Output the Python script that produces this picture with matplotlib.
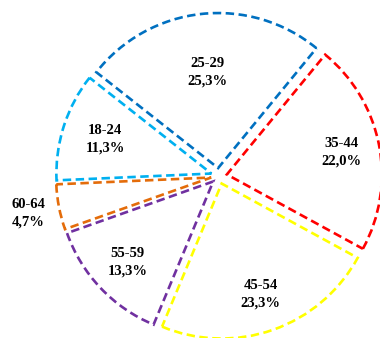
import matplotlib.pyplot as plt
import numpy as np

labels = ["25-29", "35-44", "45-54", "55-59", "60-64", "18-24"]
shares = [25.3, 22.0, 23.3, 13.3, 4.7, 11.3]
colors = ["#0070C0", "#FF0000", "#FFFF00", "#7030A0", "#E46C0A", "#00B0F0"]
label_dist = [0.62, 0.755, 0.76, 0.76, 1.2, 0.72]

W, H = 380, 338
fig = plt.figure(figsize=(W / 100, H / 100), dpi=100)
ax = fig.add_axes([0, 0, 1, 1])

radius = 155
center = (219, H - 176)
# explode is in data units here, not a fraction of the radius
wedges, _ = ax.pie(
    shares,
    colors=["white"] * len(shares),
    startangle=141.8,
    counterclock=False,
    radius=radius,
    center=center,
    explode=[8] * len(shares),
    wedgeprops=dict(linewidth=1.9, linestyle=(0, (3.2, 1.7))),
    frame=True,
)
for w, c in zip(wedges, colors):
    w.set_edgecolor(c)

for w, lab, v, d in zip(wedges, labels, shares, label_dist):
    mid = np.deg2rad((w.theta1 + w.theta2) / 2)
    x = w.center[0] + d * radius * np.cos(mid)
    y = w.center[1] + d * radius * np.sin(mid)
    txt = f"{lab}\n{v:.1f}%".replace(".", ",")
    ax.text(x, y, txt, ha="center", va="center", fontsize=10.5,
            fontweight="bold", family="Liberation Serif", linespacing=1.45)

ax.set_xlim(0, W)
ax.set_ylim(0, H)
ax.set_aspect("equal")
ax.axis("off")
fig.savefig("out.png", dpi=100)
